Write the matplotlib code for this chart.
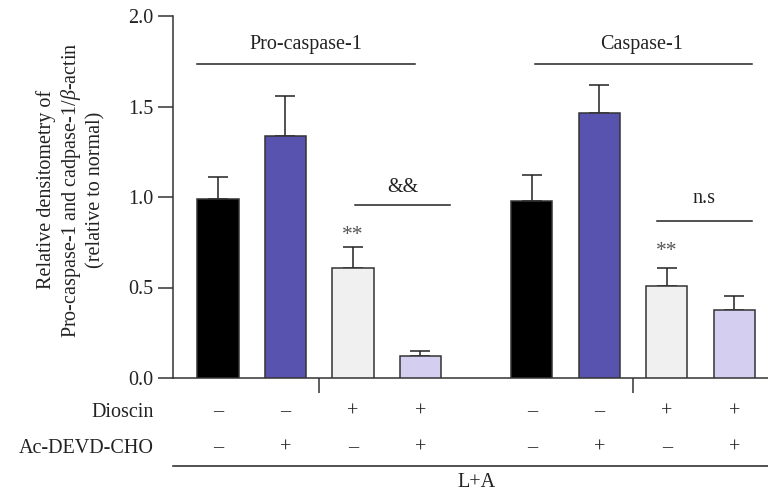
import matplotlib
matplotlib.use("Agg")
import matplotlib.pyplot as plt
import numpy as np

# Data
groups = ["Pro-caspase-1", "Caspase-1"]
means = [0.99, 1.335, 0.61, 0.12, 0.98, 1.465, 0.51, 0.375]
errors = [0.12, 0.225, 0.115, 0.03, 0.14, 0.155, 0.10, 0.08]
colors = ["#000000", "#5753AE", "#F0F0F0", "#D4CEF0",
          "#000000", "#5753AE", "#F0F0F0", "#D4CEF0"]
dioscin = ["–", "–", "+", "+", "–", "–", "+", "+"]
ac_devd = ["–", "+", "–", "+", "–", "+", "–", "+"]
yticks = [0.0, 0.5, 1.0, 1.5, 2.0]

plt.rcParams["font.family"] = ["Liberation Serif", "DejaVu Serif"]
plt.rcParams["mathtext.fontset"] = "custom"
plt.rcParams["mathtext.it"] = "Liberation Serif:italic"
plt.rcParams["mathtext.rm"] = "Liberation Serif"

FS = 14.5
INK = "#222222"

fig = plt.figure(figsize=(7.68, 4.95), dpi=100)
ax = fig.add_axes([173 / 768, (495 - 378) / 495, 595 / 768, 362 / 495])

x = np.array([0, 1, 2, 3, 4.65, 5.65, 6.65, 7.65])
ax.bar(x, means, width=0.61, color=colors, edgecolor="#333333", linewidth=1.1,
       zorder=3)
ax.errorbar(x, means, yerr=[np.zeros(len(errors)), errors], fmt="none",
            ecolor=INK, elinewidth=1.1, capsize=7.2, capthick=1.1, zorder=2)

ax.set_xlim(-0.667, 8.15)
ax.set_ylim(0, 2.0)
ax.set_yticks(yticks)
ax.set_yticklabels([f"{v:.1f}" for v in yticks], fontsize=FS, color=INK)
ax.tick_params(axis="y", length=10.8, width=1.1, color="#333333", pad=3)
ax.set_xticks([1.5, 6.15])
ax.set_xticklabels(["", ""])
ax.tick_params(axis="x", length=10.8, width=1.1, color="#333333")
for s in ["top", "right"]:
    ax.spines[s].set_visible(False)
for s in ["left", "bottom"]:
    ax.spines[s].set_color("#333333")
    ax.spines[s].set_linewidth(1.1)

# Group headers
lw = 1.1
ax.plot([-0.31, 2.92], [1.735, 1.735], color=INK, lw=lw, clip_on=False)
ax.text(1.30, 1.845, groups[0], ha="center", va="center", fontsize=FS, color=INK)
ax.plot([4.70, 7.91], [1.735, 1.735], color=INK, lw=lw, clip_on=False)
ax.text(6.28, 1.845, groups[1], ha="center", va="center", fontsize=FS, color=INK)

# Significance marks
ax.plot([2.03, 3.44], [0.956, 0.956], color=INK, lw=lw)
ax.text(2.74, 1.055, "&&", ha="center", va="center", fontsize=FS, color=INK)
ax.text(x[2], 0.785, "**", ha="center", va="center", fontsize=FS + 1, color="#555555")
ax.plot([6.50, 7.91], [0.867, 0.867], color=INK, lw=lw)
ax.text(7.2, 0.99, "n.s", ha="center", va="center", fontsize=FS, color=INK)
ax.text(x[6], 0.70, "**", ha="center", va="center", fontsize=FS + 1, color="#555555")

# Treatment rows below the axis
for xi, d, a in zip(x, dioscin, ac_devd):
    ax.text(xi, -0.188, d, ha="center", va="center", fontsize=FS, color=INK,
            clip_on=False)
    ax.text(xi, -0.387, a, ha="center", va="center", fontsize=FS, color=INK,
            clip_on=False)
ax.text(-0.948, -0.188, "Dioscin", ha="right", va="center", fontsize=FS, color=INK)
ax.text(-0.948, -0.387, "Ac-DEVD-CHO", ha="right", va="center", fontsize=FS, color=INK)
ax.plot([-0.667, 8.15], [-0.486, -0.486], color=INK, lw=lw, clip_on=False)
ax.text(3.83, -0.58, "L+A", ha="center", va="center", fontsize=FS, color=INK)

ax.text(-0.172, 0.52,
        "Relative densitometry of\n"
        "Pro-caspase-1 and cadpase-1/$\\beta$-actin\n"
        "(relative to normal)",
        transform=ax.transAxes, rotation=90, ha="center", va="center",
        fontsize=FS, color=INK, linespacing=1.2, multialignment="center")

fig.savefig("out.png", dpi=100)
